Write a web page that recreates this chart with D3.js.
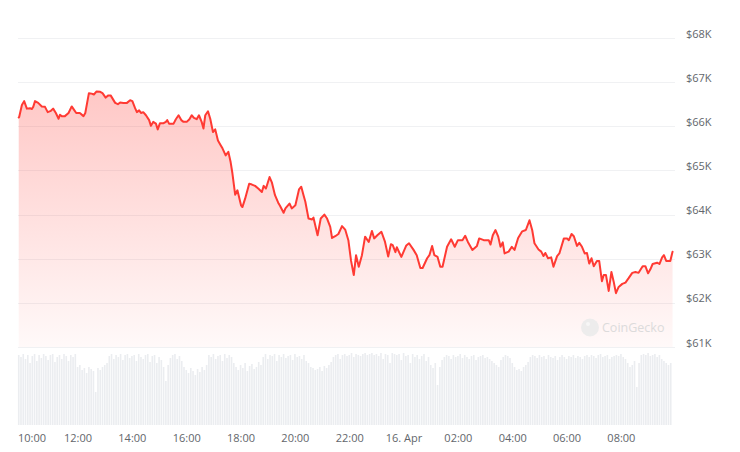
<!DOCTYPE html>
<html>
<head>
<meta charset="utf-8">
<script src="https://cdn.jsdelivr.net/npm/d3@7"></script>
<style>
  html, body { margin: 0; padding: 0; background: #ffffff; }
  svg { display: block; font-family: "Open Sans", "Noto Sans", sans-serif; }
</style>
</head>
<body>
<svg id="chart" width="740" height="452"></svg>
<script>
// ---- data (minutes since 15 Apr 00:00, price in USD) ----
const minutes = [
  589, 590, 596, 601, 607, 614, 618, 621, 625, 632, 640, 647, 653, 660, 665, 671, 677, 680, 684, 691,
  699, 706, 712, 716, 724, 732, 736, 744, 750, 755, 761, 769, 774, 781, 787, 792, 802, 808, 813, 820,
  828, 835, 840, 846, 850, 855, 859, 864, 870, 877, 881, 886, 892, 896, 901, 909, 914, 917, 921, 931,
  936, 942, 948, 953, 960, 966, 971, 976, 982, 987, 993, 997, 1001, 1007, 1012, 1018, 1023, 1029, 1034, 1039,
  1046, 1052, 1057, 1061, 1067, 1072, 1080, 1083, 1089, 1098, 1104, 1111, 1118, 1126, 1130, 1135, 1143, 1148, 1155, 1163,
  1166, 1174, 1178, 1187, 1192, 1200, 1208, 1213, 1218, 1222, 1229, 1237, 1240, 1249, 1256, 1264, 1270, 1277, 1281, 1288,
  1295, 1303, 1310, 1317, 1323, 1329, 1334, 1340, 1347, 1354, 1362, 1369, 1374, 1381, 1390, 1398, 1405, 1411, 1415, 1421,
  1424, 1434, 1445, 1451, 1461, 1468, 1476, 1481, 1491, 1496, 1502, 1507, 1514, 1520, 1525, 1535, 1544, 1552, 1559, 1569,
  1575, 1581, 1591, 1601, 1606, 1616, 1627, 1631, 1636, 1642, 1648, 1653, 1658, 1662, 1671, 1678, 1684, 1692, 1701, 1709,
  1717, 1723, 1728, 1737, 1743, 1748, 1752, 1758, 1765, 1770, 1778, 1783, 1793, 1800, 1804, 1810, 1815, 1822, 1827, 1833,
  1839, 1844, 1849, 1854, 1859, 1866, 1871, 1877, 1881, 1886, 1892, 1898, 1903, 1908, 1914, 1922, 1929, 1936, 1944, 1951,
  1958, 1967, 1973, 1979, 1984, 1989, 1999, 2004, 2010, 2014, 2019, 2028, 2033
];
const prices = [
  66200, 66210, 66480, 66570, 66400, 66410, 66390, 66440, 66570, 66530, 66450, 66440, 66320, 66350, 66400, 66300, 66170, 66260, 66230, 66230,
  66300, 66450, 66360, 66300, 66300, 66230, 66300, 66750, 66740, 66720, 66790, 66780, 66750, 66650, 66700, 66700, 66530, 66500, 66540, 66530,
  66530, 66590, 66570, 66410, 66320, 66360, 66300, 66320, 66250, 66140, 66010, 66100, 66060, 65930, 66070, 66070, 66100, 66140, 66060, 66060,
  66160, 66250, 66140, 66100, 66100, 66160, 66250, 66190, 66160, 66250, 66100, 65950, 66250, 66340, 66170, 65870, 65930, 65680, 65590, 65500,
  65340, 65420, 65190, 64930, 64450, 64550, 64210, 64170, 64360, 64700, 64680, 64650, 64590, 64510, 64650, 64590, 64850, 64730, 64440, 64250,
  64200, 64040, 64140, 64250, 64140, 64210, 64570, 64630, 64440, 64290, 63910, 63890, 63930, 63530, 63910, 64000, 63910, 63720, 63470, 63510,
  63560, 63740, 63660, 63420, 62950, 62630, 63080, 62820, 63080, 63500, 63380, 63630, 63460, 63530, 63610, 63380, 63050, 63330, 63310, 63150,
  63260, 63040, 63300, 63350, 63200, 63080, 62790, 62790, 63010, 63080, 63290, 63080, 63040, 62820, 62820, 63270, 63440, 63270, 63420, 63420,
  63520, 63380, 63200, 63290, 63460, 63420, 63420, 63320, 63530, 63650, 63500, 63270, 63370, 63120, 63160, 63270, 63200, 63470, 63620, 63650,
  63870, 63650, 63350, 63210, 63160, 63060, 63130, 63010, 63030, 62820, 63060, 63120, 63460, 63460, 63420, 63560, 63510, 63290, 63360, 63270,
  63120, 63130, 62890, 63010, 62830, 62950, 62950, 62490, 62630, 62630, 62270, 62700, 62480, 62220, 62360, 62430, 62460, 62560, 62680, 62700,
  62680, 62830, 62830, 62670, 62760, 62880, 62910, 62880, 63030, 63080, 62950, 62950, 63160
];
// 5-minute volume bars (relative units), starting 15 Apr 09:48
const volumeStartMinute = 589;
const volumes = [
  70,68,71,66,70,62,69,71,64,70,67,71,
  69,65,70,71,63,68,70,66,71,69,64,70,
  68,71,58,60,55,57,52,58,56,54,33,57,
  55,58,60,62,69,71,66,70,68,71,65,70,
  71,67,69,70,64,71,68,66,70,71,63,69,
  70,62,68,65,58,44,60,67,70,71,66,69,
  64,58,55,52,57,54,50,56,53,58,55,60,
  70,68,71,66,69,70,64,71,67,70,68,62,
  58,55,60,57,62,54,59,61,56,58,63,60,
  68,71,66,70,69,71,64,70,68,71,67,69,
  70,65,71,68,69,66,70,64,62,58,57,55,
  56,58,54,59,57,60,63,68,70,71,66,70,
  71,69,70,72,68,71,70,69,71,72,70,71,
  72,70,71,69,72,66,71,70,62,72,71,70,
  71,65,72,69,70,62,71,68,70,66,69,71,
  64,68,60,57,62,40,58,65,68,70,69,66,
  70,68,69,71,67,70,68,66,69,70,65,68,
  69,70,67,68,66,64,62,60,58,65,68,70,
  69,67,62,58,55,56,54,58,60,63,68,70,
  69,67,70,68,69,66,70,68,67,69,65,68,
  70,68,66,69,68,70,67,69,68,66,69,70,
  68,70,69,67,70,71,68,69,70,66,68,69,
  70,69,71,68,66,62,58,60,64,38,62,70,
  71,70,72,69,70,71,68,70,66,64,62,60,
  62
];
const yTicks = [61000, 62000, 63000, 64000, 65000, 66000, 67000, 68000];
const yTickLabels = ["$61K", "$62K", "$63K", "$64K", "$65K", "$66K", "$67K", "$68K"];
const domainStartMinute = 587.4;
const domainEndMinute = 2034;

// ---- layout ----
const W = 740, H = 452;
const plot = { left: 18, right: 673, top: 38, bottom: 347 };
const vol = { top: 353, bottom: 425 };
const base = new Date(2024, 3, 15, 0, 0, 0);
const toDate = m => new Date(base.getTime() + m * 60000);

const svg = d3.select("#chart");

const x = d3.scaleTime()
  .domain([toDate(domainStartMinute), toDate(domainEndMinute)])
  .range([plot.left, plot.right]);
const y = d3.scaleLinear().domain([61000, 68000]).range([plot.bottom, plot.top]);
const yv = d3.scaleLinear().domain([0, d3.max(volumes)]).range([vol.bottom, vol.top]);

const data = minutes.map((m, i) => ({ t: toDate(m), p: prices[i] }));

// gradient
const defs = svg.append("defs");
const grad = defs.append("linearGradient").attr("id", "areaGrad")
  .attr("gradientUnits", "userSpaceOnUse")
  .attr("x1", 0).attr("x2", 0).attr("y1", y(66800)).attr("y2", plot.bottom);
grad.append("stop").attr("offset", 0).attr("stop-color", "#ff3a33").attr("stop-opacity", 0.28);
grad.append("stop").attr("offset", 1).attr("stop-color", "#ff3a33").attr("stop-opacity", 0.03);

// gridlines
svg.append("g").selectAll("line").data(yTicks).join("line")
  .attr("x1", plot.left).attr("x2", plot.right + 2)
  .attr("y1", d => Math.round(y(d)) + 0.5).attr("y2", d => Math.round(y(d)) + 0.5)
  .attr("stroke", "#f0f1f3").attr("stroke-width", 1);

// volume bars
svg.append("g").selectAll("rect").data(volumes).join("rect")
  .attr("x", (d, i) => x(toDate(volumeStartMinute + i * 5)) - 0.8)
  .attr("width", 1.6)
  .attr("y", d => yv(d))
  .attr("height", d => vol.bottom - yv(d))
  .attr("fill", "#ebedf0");

// area
const area = d3.area().x(d => x(d.t)).y0(plot.bottom).y1(d => y(d.p));
svg.append("path").datum(data).attr("d", area).attr("fill", "url(#areaGrad)");

// watermark
const wm = svg.append("g").attr("opacity", 0.9);
wm.append("circle").attr("cx", 590).attr("cy", 327.5).attr("r", 9).attr("fill", "#ececec");
wm.append("circle").attr("cx", 588).attr("cy", 324).attr("r", 2).attr("fill", "#f7f7f7");
wm.append("text").attr("x", 602).attr("y", 332).attr("font-size", 12.5)
  .attr("fill", "#d9d9d9").text("CoinGecko");

// line
const line = d3.line().x(d => x(d.t)).y(d => y(d.p));
svg.append("path").datum(data).attr("d", line)
  .attr("fill", "none").attr("stroke", "#ff3a33").attr("stroke-width", 2)
  .attr("stroke-linejoin", "round").attr("stroke-linecap", "round");

// y axis labels
svg.append("g").selectAll("text").data(yTicks).join("text")
  .attr("x", 686).attr("y", d => y(d) - 0.5)
  .attr("font-size", 11).attr("fill", "#62666b")
  .text((d, i) => yTickLabels[i]);

// x axis labels
const xTicks = x.ticks(d3.timeHour.every(2));
const fmt = d => d.getHours() === 0 ? d3.timeFormat("%-d. %b")(d) : d3.timeFormat("%H:%M")(d);
svg.append("g").selectAll("text").data(xTicks).join("text")
  .attr("x", d => Math.max(x(d), plot.left + 14))
  .attr("y", 442)
  .attr("text-anchor", "middle")
  .attr("font-size", 11).attr("fill", "#62666b")
  .text(fmt);
</script>
</body>
</html>
